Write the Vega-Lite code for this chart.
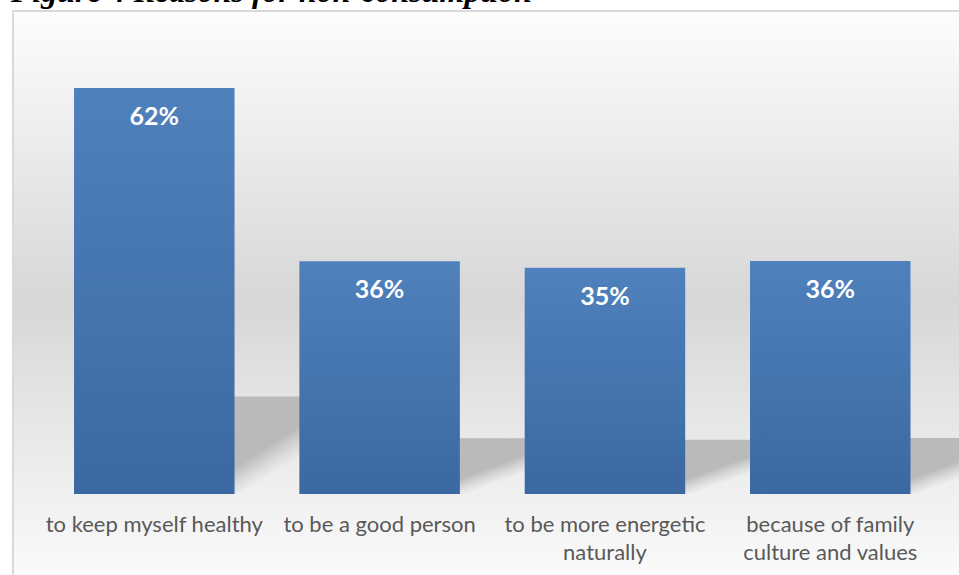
{
  "$schema": "https://vega.github.io/schema/vega-lite/v6.json",
  "width": 951,
  "height": 569,
  "autosize": {"type": "none"},
  "padding": {"left": 13, "top": 11, "right": -5, "bottom": -5},
  "background": "white",
  "title": {
    "text": "Figure 4 Reasons for non-consumption",
    "anchor": "start",
    "frame": "group",
    "font": "Liberation Serif",
    "fontSize": 32,
    "fontWeight": "bold",
    "fontStyle": "italic",
    "color": "black",
    "baseline": "bottom",
    "offset": -30,
    "dx": -2
  },
  "config": {
    "view": {
      "stroke": "#d9d9d9",
      "strokeWidth": 2,
      "fill": {
        "gradient": "linear",
        "x1": 0, "y1": 0, "x2": 0, "y2": 1,
        "stops": [
          {"offset": 0, "color": "#fdfdfd"},
          {"offset": 0.51, "color": "#d7d7d7"},
          {"offset": 1, "color": "#fbfbfb"}
        ]
      }
    }
  },
  "data": {
    "values": [
      {"reason": "to keep myself healthy", "value": 0.62},
      {"reason": "to be a good person", "value": 0.3555},
      {"reason": "to be more energetic naturally", "value": 0.3455},
      {"reason": "because of family culture and values", "value": 0.356}
    ]
  },
  "encoding": {
    "x": {
      "field": "reason",
      "type": "nominal",
      "sort": null,
      "scale": {"paddingInner": 0.2877, "paddingOuter": 0.2541, "align": 0.533},
      "axis": {
        "title": null,
        "orient": "bottom",
        "offset": -86,
        "domain": false,
        "ticks": false,
        "grid": false,
        "labelPadding": 20,
        "labelFont": "Lato",
        "labelFontSize": 22,
        "labelColor": "#595959",
        "labelAngle": 0,
        "labelLimit": 0,
        "labelLineHeight": 28,
        "labelExpr": "datum.label == 'to be more energetic naturally' ? ['to be more energetic', 'naturally'] : datum.label == 'because of family culture and values' ? ['because of family', 'culture and values'] : datum.label"
      }
    }
  },
  "layer": [
    {
      "mark": {
        "type": "bar",
        "xOffset": 70,
        "fill": {
          "gradient": "linear",
          "x1": 0.46, "y1": 0.84, "x2": 0.62, "y2": 0.99,
          "stops": [
            {"offset": 0, "color": "#bababa"},
            {"offset": 1, "color": "rgba(200,200,200,0)"}
          ]
        }
      },
      "encoding": {
        "y": {"field": "value", "type": "quantitative", "scale": {"domain": [-0.547, 3.073], "nice": false, "zero": false}, "axis": null},
        "y2": {"datum": 0}
      }
    },
    {
      "mark": {
        "type": "bar",
        "fill": {
          "gradient": "linear",
          "x1": 0, "y1": 0, "x2": 0, "y2": 1,
          "stops": [
            {"offset": 0, "color": "#4f81bd"},
            {"offset": 1, "color": "#3b68a1"}
          ]
        }
      },
      "encoding": {
        "y": {"field": "value", "type": "quantitative", "scale": {"domain": [-0.1313, 0.7376], "nice": false, "zero": false}, "axis": null},
        "y2": {"datum": 0}
      }
    },
    {
      "mark": {"type": "text", "baseline": "middle", "dy": 29, "font": "Lato", "fontSize": 25, "fontWeight": "bold", "color": "white"},
      "encoding": {
        "y": {"field": "value", "type": "quantitative", "scale": {"domain": [-0.1313, 0.7376], "nice": false, "zero": false}, "axis": null},
        "text": {"field": "value", "type": "quantitative", "format": ".0%"}
      }
    }
  ],
  "resolve": {"scale": {"y": "independent"}}
}
